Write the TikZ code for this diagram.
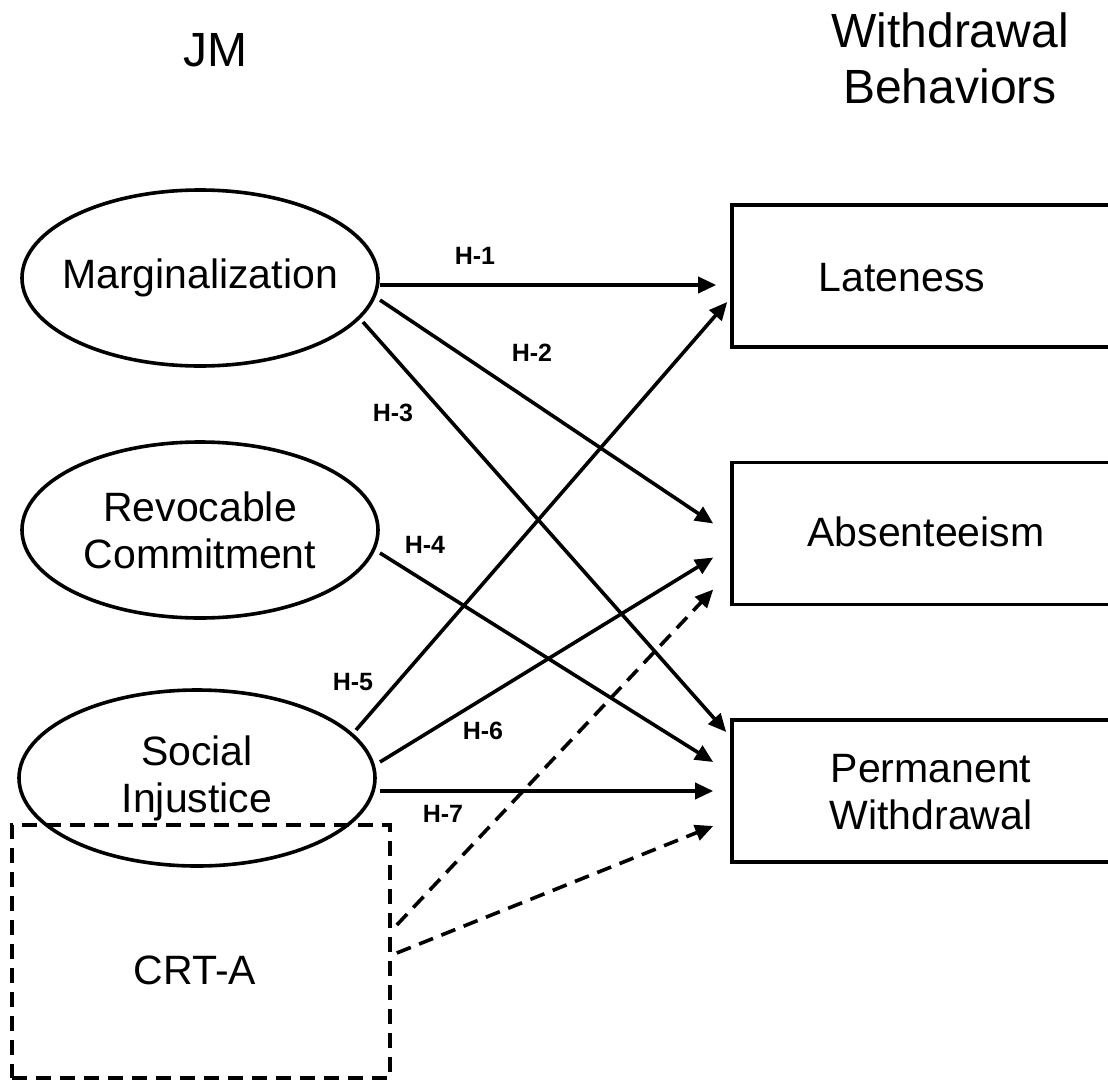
\documentclass[tikz,border=0pt]{standalone}
\usepackage{fontspec}
\setmainfont{Liberation Sans}
\usetikzlibrary{arrows.meta, shapes, positioning}

\begin{document}
\begin{tikzpicture}[x=0.5pt, y=-0.5pt, line width=1.8pt,
    construct/.style={draw, ellipse, inner ysep=0pt, inner xsep=-10pt, minimum width=178pt, minimum height=88pt,
      align=center, font=\fontsize{20.5}{23.5}\selectfont},
    outcome/.style={draw, rectangle, inner sep=0pt, minimum width=199pt, minimum height=71pt},
    moderator/.style={draw, dash pattern=on 7.5pt off 4.5pt, inner sep=0pt,
      minimum width=189pt, minimum height=126.5pt},
    big/.style={align=center, font=\fontsize{20.5}{23.5}\selectfont},
    head/.style={align=center, font=\fontsize{24}{28}\selectfont},
    hyp/.style={font=\bfseries\fontsize{12.5}{14}\selectfont},
    hpath/.style={-{Triangle[length=9pt, width=8pt]}},
    dpath/.style={hpath, dash pattern=on 7.5pt off 4.5pt}]
      \useasboundingbox (0,0) rectangle (1108,1082);
      \clip (0,0) rectangle (1108,1082);

      \node[head]      (jm)     at (215,50)    {JM};
      \node[head]      (wb)     at (950,58)    {Withdrawal\\Behaviors};

      \node[construct] (marg)   at (200,278)   {Marginalization};
      \node[construct] (revo)   at (200,530)   {Revocable\\Commitment};
      \node[construct] (soci)   at (197,778)   {Social\\Injustice};
      \node[moderator] (crta)   at (201,951.5) {};
      \node[big]       (crtlbl) at (195,970)   {CRT-A};

      \node[outcome]   (late)   at (931,276)   {};
      \node[outcome]   (abse)   at (931,533.5) {};
      \node[outcome]   (perm)   at (931,791)   {};
      \node[big]       (latelbl) at (902,278)  {Lateness};
      \node[big]       (abselbl) at (926,532)  {Absenteeism};
      \node[big]       (permlbl) at (931,792)  {Permanent\\Withdrawal};

      \draw[hpath] ([shift={(180,7)}]marg.center)  -- ([shift={(-14,9)}]late.west);
      \draw[hpath] ([shift={(180,22)}]marg.center) -- ([shift={(-17,-10)}]abse.west);
      \draw[hpath] ([shift={(163,44)}]marg.center) -- ([shift={(-4,-59)}]perm.west);
      \draw[hpath] ([shift={(180,23)}]revo.center) -- ([shift={(-17,-29)}]perm.west);
      \draw[hpath] ([shift={(159,-48)}]soci.center) -- ([shift={(-3,26)}]late.west);
      \draw[hpath] ([shift={(183,-16)}]soci.center) -- ([shift={(-17,24)}]abse.west);
      \draw[hpath] ([shift={(183,13)}]soci.center)  -- ([shift={(-17,0)}]perm.west);
      \draw[dpath] ([shift={(5,-26.5)}]crta.east)   -- ([shift={(-17,56)}]abse.west);
      \draw[dpath] ([shift={(5,1.5)}]crta.east)     -- ([shift={(-17,35)}]perm.west);

      \node[hyp] (h1) at (475,256) {H-1};
      \node[hyp] (h2) at (532,353) {H-2};
      \node[hyp] (h3) at (393,413) {H-3};
      \node[hyp] (h4) at (425,545) {H-4};
      \node[hyp] (h5) at (353,682) {H-5};
      \node[hyp] (h6) at (483,731) {H-6};
      \node[hyp] (h7) at (443,814) {H-7};
    \end{tikzpicture}
\end{document}
